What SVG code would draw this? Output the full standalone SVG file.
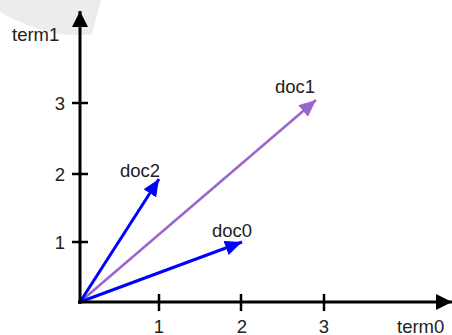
<svg xmlns="http://www.w3.org/2000/svg" width="452" height="335" viewBox="0 0 452 335">
<defs>
<style>
text{font-family:"Liberation Sans",Arial,sans-serif;font-size:18.5px;fill:#222}
.axis{stroke:#000;stroke-width:3;fill:none}
.tick{stroke:#000;stroke-width:2.5}
.blue{stroke:#0000ff;stroke-width:3;fill:none}
.purple{stroke:#9966cc;stroke-width:2.5;fill:none}
</style>
<marker id="ab" viewBox="0 0 10 10" refX="10" refY="5" markerWidth="16" markerHeight="16" markerUnits="userSpaceOnUse" orient="auto"><path d="M0,0 L10,5 L0,10 Z" fill="#000"/></marker>
<marker id="bb" viewBox="0 0 10 10" refX="10" refY="5" markerWidth="17" markerHeight="15" markerUnits="userSpaceOnUse" orient="auto" preserveAspectRatio="none"><path d="M0,0 L10,5 L0,10 Z" fill="#0000ff"/></marker>
<marker id="pb" viewBox="0 0 10 10" refX="10" refY="5" markerWidth="17" markerHeight="15" markerUnits="userSpaceOnUse" orient="auto" preserveAspectRatio="none"><path d="M0,0 L10,5 L0,10 Z" fill="#9966cc"/></marker>
</defs>
<path d="M0,0 H101 L92,34 Q60,38 30,26 Q12,19 0,12 Z" fill="#ececec"/>
<g id="connectors">
<line class="purple" x1="80" y1="302" x2="316" y2="100" marker-end="url(#pb)"/>
<line class="blue" x1="80" y1="302" x2="159" y2="179" marker-end="url(#bb)"/>
<line class="blue" x1="80" y1="302" x2="242" y2="242" marker-end="url(#bb)"/>
</g>
<g id="axes">
<line class="axis" x1="80" y1="304" x2="80" y2="11" marker-end="url(#ab)"/>
<line class="axis" x1="78" y1="302" x2="452" y2="302" marker-end="url(#ab)"/>
<line class="tick" x1="72" y1="103" x2="88" y2="103"/>
<line class="tick" x1="72" y1="174" x2="88" y2="174"/>
<line class="tick" x1="72" y1="242" x2="88" y2="242"/>
<line class="tick" x1="159" y1="294" x2="159" y2="311"/>
<line class="tick" x1="241" y1="294" x2="241" y2="311"/>
<line class="tick" x1="324" y1="294" x2="324" y2="311"/>
</g>
<g id="labels">
<text x="12" y="41">term1</text>
<text x="397" y="333">term0</text>
<text x="65" y="110" text-anchor="end">3</text>
<text x="65" y="181" text-anchor="end">2</text>
<text x="65" y="249" text-anchor="end">1</text>
<text x="159" y="333" text-anchor="middle">1</text>
<text x="242" y="333" text-anchor="middle">2</text>
<text x="324" y="333" text-anchor="middle">3</text>
</g>
<g id="doc0"><text x="232" y="237" text-anchor="middle">doc0</text></g>
<g id="doc1"><text x="295" y="93" text-anchor="middle">doc1</text></g>
<g id="doc2"><text x="140" y="177" text-anchor="middle">doc2</text></g>
</svg>
